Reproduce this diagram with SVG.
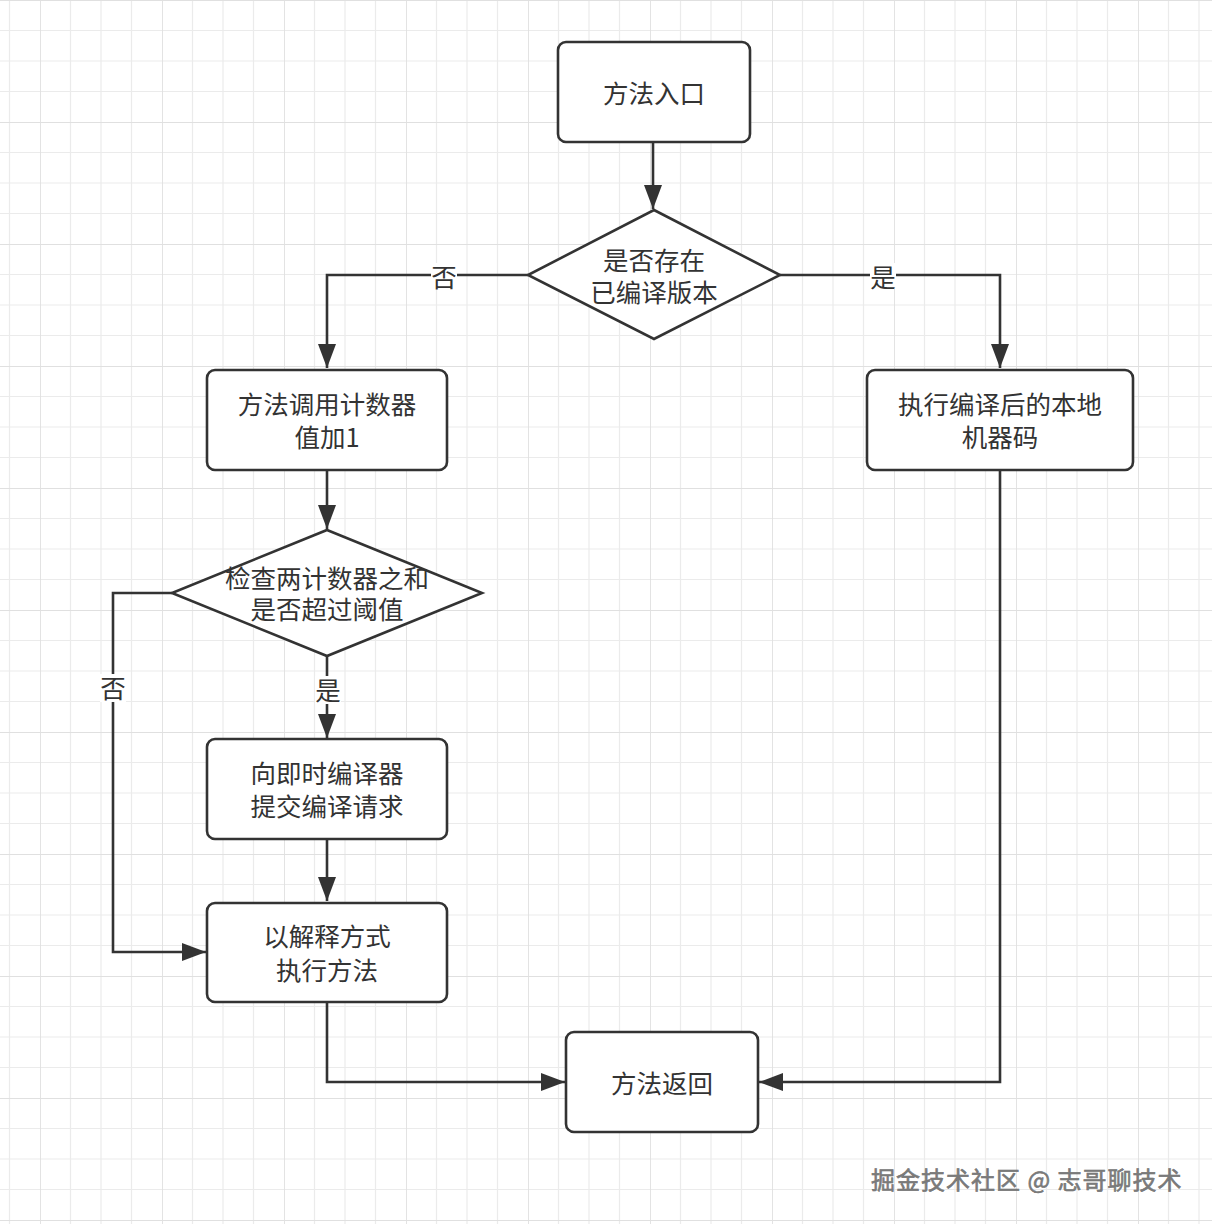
<svg xmlns="http://www.w3.org/2000/svg" width="1212" height="1224" viewBox="0 0 1212 1224">
<style>
.node{fill:#fff;stroke:#333;stroke-width:2.6}
.txt{font-family:"Noto Sans CJK SC","Noto Sans",sans-serif;font-size:25.5px;fill:#333;text-anchor:middle;dominant-baseline:central}
.conn{fill:none;stroke:#333;stroke-width:2.6;stroke-linejoin:miter}
.arr{marker-end:url(#ah)}
.lblbg{fill:#fff}
.wm{font-family:"Noto Sans CJK SC","Noto Sans",sans-serif;font-size:24px;letter-spacing:1px;fill:#7a7a7a;stroke:#555;stroke-width:0.5;paint-order:stroke}
</style>
<defs>
<pattern id="grid" x="40" y="0" width="122" height="122" patternUnits="userSpaceOnUse">
<path d="M30.5,0V122M61,0V122M91.5,0V122M0,30.5H122M0,61H122M0,91.5H122" stroke="#ebebeb" stroke-width="1.2" fill="none"/>
<path d="M0,0V122M0,0H122" stroke="#e0e0e0" stroke-width="1.8" fill="none"/>
</pattern>
<marker id="ah" markerUnits="userSpaceOnUse" markerWidth="26" markerHeight="20" refX="24" refY="9" orient="auto">
<path d="M0,0L24,9L0,18Z" fill="#333"/>
</marker>
</defs>
<rect width="1212" height="1224" fill="#fff"/>
<rect width="1212" height="1224" fill="url(#grid)"/>

<g id="connectors">
<path class="conn arr" d="M653,142V209"/>
<path class="conn arr" d="M528,275H327V368"/>
<path class="conn arr" d="M780,275H1000V368"/>
<path class="conn arr" d="M327,470V529"/>
<path class="conn arr" d="M172,593H113V952H206"/>
<path class="conn arr" d="M327,655V738"/>
<path class="conn arr" d="M327,839V901"/>
<path class="conn arr" d="M327,1002V1082H565"/>
<path class="conn arr" d="M1000,470V1082H759"/>
<rect class="lblbg" x="431" y="263" width="26" height="26"/>
<text class="txt" x="444" y="275">否</text>
<rect class="lblbg" x="870" y="263" width="26" height="26"/>
<text class="txt" x="883" y="275">是</text>
<rect class="lblbg" x="100" y="674" width="26" height="28"/>
<text class="txt" x="113" y="686">否</text>
<rect class="lblbg" x="315" y="676" width="26" height="28"/>
<text class="txt" x="328" y="688">是</text>
</g>

<g id="start">
<rect class="node" x="558" y="42" width="192" height="100" rx="8"/>
<text class="txt" x="654" y="91">方法入口</text>
</g>
<g id="decision1">
<polygon class="node" points="654,210 780,275 654,339 528,275"/>
<text class="txt" x="654" y="258">是否存在<tspan x="654" dy="32">已编译版本</tspan></text>
</g>
<g id="counter">
<rect class="node" x="207" y="370" width="240" height="100" rx="8"/>
<text class="txt" x="327" y="402">方法调用计数器<tspan x="327" dy="33">值加1</tspan></text>
</g>
<g id="native">
<rect class="node" x="867" y="370" width="266" height="100" rx="8"/>
<text class="txt" x="1000" y="402">执行编译后的本地<tspan x="1000" dy="33">机器码</tspan></text>
</g>
<g id="decision2">
<polygon class="node" points="327,530 482,593 327,656 172,593"/>
<text class="txt" x="327" y="576">检查两计数器之和<tspan x="327" dy="31">是否超过阈值</tspan></text>
</g>
<g id="submit">
<rect class="node" x="207" y="739" width="240" height="100" rx="8"/>
<text class="txt" x="327" y="771">向即时编译器<tspan x="327" dy="33">提交编译请求</tspan></text>
</g>
<g id="interpret">
<rect class="node" x="207" y="903" width="240" height="99" rx="8"/>
<text class="txt" x="327" y="934">以解释方式<tspan x="327" dy="34">执行方法</tspan></text>
</g>
<g id="return">
<rect class="node" x="566" y="1032" width="192" height="100" rx="8"/>
<text class="txt" x="662" y="1081">方法返回</text>
</g>
<text class="wm" x="871" y="1189">掘金技术社区 @ 志哥聊技术</text>
</svg>
